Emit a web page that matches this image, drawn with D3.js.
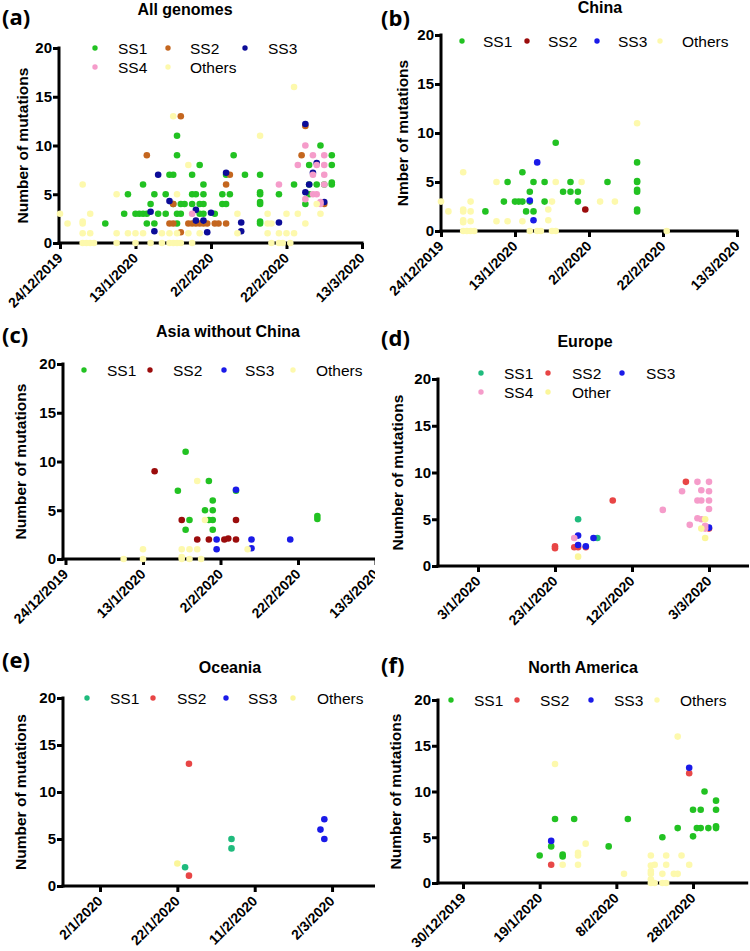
<!DOCTYPE html>
<html><head><meta charset="utf-8">
<script src="https://cdn.jsdelivr.net/npm/d3@7"></script>
<style>body{margin:0;background:#fff}svg{display:block}</style>
</head><body>
<svg id="chart" width="750" height="951"></svg>
<script>
// ---------- DATA ----------
const yTickValues = [0, 5, 10, 15, 20];
const ticksABC = ["2019-12-24","2020-01-13","2020-02-02","2020-02-22","2020-03-13"];
const ticksD = ["2020-01-03","2020-01-23","2020-02-12","2020-03-03"];
const ticksE = ["2020-01-02","2020-01-22","2020-02-11","2020-03-02"];
const ticksF = ["2019-12-30","2020-01-19","2020-02-08","2020-02-28"];
const dateExtent = ["2019-12-24","2020-03-13"];

// (a) All genomes
const aSS1 = [["2020-01-24",11],["2020-01-24",9],["2020-02-08",9],["2020-03-02",10],["2020-03-05",9],
["2020-01-30",8],["2020-02-28",8],["2020-03-05",8],
["2020-01-22",7],["2020-01-23",7],["2020-01-28",7],["2020-02-06",7],["2020-02-11",7],["2020-02-15",7],
["2020-01-15",6],["2020-01-31",6],["2020-02-24",6],["2020-02-28",6],["2020-03-01",6],["2020-03-03",6],["2020-03-05",6],["2020-03-05",6.2],
["2020-01-11",5],["2020-01-18",5],["2020-01-21",5],["2020-01-28",5],["2020-01-29",5],["2020-01-31",5],["2020-02-05",5],["2020-02-07",5],["2020-02-15",5.2],["2020-02-15",5],["2020-02-20",5],["2020-02-28",5],
["2020-01-17",4],["2020-01-23",4],["2020-01-25",4],["2020-01-26",4],["2020-01-28",4],["2020-01-30",4],["2020-01-31",4],["2020-02-05",4],["2020-02-06",4],["2020-02-15",4.2],["2020-02-15",4],["2020-02-27",4],
["2020-01-10",3],["2020-01-13",3],["2020-01-14",3],["2020-01-15",3],["2020-01-16",3],["2020-01-19",3],["2020-01-21",3],["2020-01-24",3],["2020-01-25",3],["2020-01-30",3],["2020-01-31",3],["2020-02-03",3],
["2020-01-05",2],["2020-01-16",2],["2020-01-18",2],["2020-01-24",2],["2020-02-15",2.2],["2020-02-15",2]];
const aSS2 = [["2020-01-16",9],["2020-01-25",13],["2020-02-26",9],["2020-02-27",12],["2020-02-06",6],["2020-02-07",7],["2020-01-23",4],["2020-03-03",4],
["2020-01-22",2],["2020-01-23",2],["2020-01-27",2],["2020-01-28",2],["2020-01-29",2],["2020-01-30",2],["2020-01-31",2],["2020-02-01",2],["2020-02-03",2],["2020-02-04",2],["2020-02-06",2],["2020-01-25",1.1]];
const aSS3 = [["2020-01-19",7],["2020-02-06",7.2],["2020-01-22",4.3],["2020-01-17",3.2],["2020-01-29",3.4],["2020-02-02",3.1],["2020-01-18",1.2],["2020-01-29",2.3],["2020-01-31",2.3],["2020-02-01",1.1],["2020-02-10",2.1],["2020-02-10",1.2],["2020-02-20",2.1],
["2020-02-27",12.2],["2020-02-28",6],["2020-02-27",5.2],["2020-02-29",7.2],["2020-03-01",8.2],["2020-03-03",4.2]];
const aSS4 = [["2020-01-28",3],["2020-02-20",6],["2020-02-25",8],["2020-02-27",10],["2020-02-29",9],["2020-03-03",9],["2020-02-29",7],["2020-03-03",7],["2020-03-01",8],["2020-03-03",8],["2020-03-03",6],["2020-02-29",5],["2020-03-01",5],["2020-02-27",4.5],["2020-03-02",4.2],["2020-03-02",4]];
const aOthers = [["2020-01-23",13],["2020-01-27",8],["2020-02-15",11],["2020-02-24",16],
["2019-12-24",3],["2019-12-26",2],["2019-12-30",6],["2019-12-30",2.2],["2019-12-30",2],["2019-12-30",1],["2019-12-30",0],["2019-12-31",0],["2020-01-01",3],["2020-01-01",1],["2020-01-01",0],["2020-01-02",0],
["2020-01-08",5],["2020-01-08",1],["2020-01-08",0],["2020-01-11",1],["2020-01-13",1],["2020-01-13",0],["2020-01-15",1],["2020-01-17",0],["2020-01-20",0],["2020-01-20",1],["2020-01-22",0],["2020-01-22",1],["2020-01-23",0],["2020-01-24",0],["2020-01-24",1],["2020-01-24",5],["2020-01-25",0],["2020-01-27",1],["2020-01-28",0],["2020-01-30",1],
["2020-02-09",3],["2020-02-09",1],["2020-02-17",3],["2020-02-17",2],["2020-02-17",1],["2020-02-18",2],["2020-02-18",0],["2020-02-20",0],["2020-02-20",1],["2020-02-21",0],["2020-02-22",3],["2020-02-22",1],["2020-02-23",0],["2020-02-24",1],["2020-02-25",3],["2020-02-27",2],["2020-03-02",3],["2020-03-01",4]];

// (b) China
const bSS1 = [["2020-01-24",9],["2020-02-15",7],["2020-01-15",6],
["2020-01-11",5],["2020-01-18",5],["2020-01-21",5],["2020-01-28",5],["2020-02-07",5],["2020-02-15",5.1],["2020-02-15",5],
["2020-01-17",4],["2020-01-26",4],["2020-01-28",4],["2020-01-30",4],["2020-02-15",4.2],["2020-02-15",4],
["2020-01-10",3],["2020-01-13",3],["2020-01-14",3],["2020-01-15",3],["2020-01-17",3],["2020-01-21",3],["2020-01-30",3],
["2020-01-05",2],["2020-01-16",2],["2020-01-18",2],["2020-02-15",2.2],["2020-02-15",2]];
const bSS2 = [["2020-02-01",2.2]];
const bSS3 = [["2020-01-19",7],["2020-01-17",3.1],["2020-01-18",1.1]];
const bOthers = [["2020-02-15",11],["2019-12-30",6],["2020-01-08",5],["2020-01-24",5],["2020-01-31",5],
["2019-12-24",3],["2020-01-01",3],["2020-01-23",3],["2020-02-05",3],["2020-02-09",3],
["2019-12-26",2],["2019-12-30",2.2],["2019-12-30",2],["2020-01-01",2],["2020-01-22",2.2],
["2019-12-30",1.1],["2019-12-30",0.9],["2020-01-01",1],["2020-01-08",1],["2020-01-11",1],["2020-01-15",1],["2020-01-22",1.1],
["2019-12-30",0],["2019-12-31",0],["2020-01-01",0],["2020-01-02",0],["2020-01-17",0],["2020-01-19",0],["2020-01-20",0],["2020-01-23",0],["2020-01-24",0],["2020-02-23",0]];

// (c) Asia without China
const cSS1 = [["2020-01-24",11],["2020-01-30",8],["2020-01-22",7],["2020-02-06",7],["2020-01-31",6],["2020-01-29",5],["2020-01-31",5],["2020-01-25",4],["2020-01-30",4],["2020-01-31",4],["2020-01-24",3],["2020-01-31",3],["2020-02-27",4.4],["2020-02-27",4.1]];
const cSS2 = [["2020-01-16",9],["2020-01-23",4],["2020-02-06",4],["2020-01-27",2],["2020-01-30",2],["2020-02-03",2],["2020-02-04",2.1],["2020-02-06",2]];
const cSS3 = [["2020-02-06",7.1],["2020-02-01",2],["2020-02-10",2],["2020-02-20",2],["2020-02-01",1],["2020-02-10",1.1]];
const cOthers = [["2020-01-27",8],["2020-01-29",4],["2020-02-09",1],["2020-01-13",1],["2020-01-23",1],["2020-01-25",1],["2020-01-27",1],["2020-01-08",0],["2020-01-13",0],["2020-01-23",0.2],["2020-01-23",0],["2020-01-25",0],["2020-01-28",0]];

// (d) Europe
const dSS1 = [["2020-01-29",5],["2020-02-03",3]];
const dSS2 = [["2020-01-23",2.1],["2020-01-23",1.9],["2020-01-28",2],["2020-01-29",2],["2020-01-31",2],["2020-02-07",7],["2020-02-26",9],["2020-03-03",4]];
const dSS3 = [["2020-01-29",2.25],["2020-01-29",3.25],["2020-02-02",3],["2020-01-31",2.1],["2020-03-03",4.1]];
const dSS4 = [["2020-01-28",3],["2020-02-20",6],["2020-02-25",8],["2020-02-29",9],["2020-03-01",8.1],["2020-02-29",7],["2020-03-01",7],["2020-03-03",9],["2020-03-03",8],["2020-03-03",7],["2020-03-03",6.1],["2020-02-27",4.4],["2020-02-29",5.1],["2020-03-01",5],["2020-03-02",4.3],["2020-03-02",4]];
const dOther = [["2020-01-29",1],["2020-03-02",5],["2020-03-01",4],["2020-03-02",3]];

// (e) Oceania
const eSS1 = [["2020-01-24",2],["2020-02-05",5],["2020-02-05",4]];
const eSS2 = [["2020-01-25",13],["2020-01-25",1.1]];
const eSS3 = [["2020-02-28",6],["2020-02-29",7.1],["2020-02-29",5]];
const eOthers = [["2020-01-22",2.4]];

// (f) North America
const fSS1 = [["2020-03-02",10],["2020-03-05",9],["2020-02-28",8],["2020-03-01",8],["2020-03-05",8],["2020-01-23",7],["2020-01-28",7],["2020-02-11",7],["2020-02-24",6],["2020-02-29",6],["2020-03-01",6],["2020-03-03",6],["2020-03-05",6.2],["2020-03-05",6],["2020-02-28",5.1],["2020-02-20",5],["2020-01-22",4],["2020-02-06",4],["2020-01-19",3],["2020-01-25",3.1],["2020-01-25",2.9]];
const fSS2 = [["2020-02-27",12],["2020-01-22",2]];
const fSS3 = [["2020-02-27",12.6],["2020-01-22",4.6]];
const fOthers = [["2020-01-23",13],["2020-02-24",16],["2020-01-31",4.3],["2020-01-29",3.3],["2020-01-29",3],["2020-01-25",2],["2020-01-29",2],["2020-02-10",1],["2020-02-17",3],["2020-02-17",1.9],["2020-02-17",1.3],["2020-02-17",1],["2020-02-17",0.4],["2020-02-17",0],["2020-02-18",2],["2020-02-18",0],["2020-02-21",3],["2020-02-21",2],["2020-02-21",0],["2020-02-20",1],["2020-02-20",0],["2020-02-23",1],["2020-02-24",1],["2020-02-25",3],["2020-02-27",2]];

// ---------- STYLE / LAYOUT ----------
const YELLOW = "#fdf9ad";
const palA = {SS1:"#22c222", SS2:"#c4661f", SS3:"#0c0c98", SS4:"#f59cca", Others:YELLOW};
const palBC = {SS1:"#22c222", SS2:"#9b0c0c", SS3:"#1a1ae8", Others:YELLOW};
const palDE = {SS1:"#1fbb7d", SS2:"#e84545", SS3:"#1a1ae8", SS4:"#f59cca", Other:"#fbf69a", Others:"#fbf69a"};
const palF = {SS1:"#22c222", SS2:"#e84848", SS3:"#1a1ae8", Others:YELLOW};

const panels = [
 {letter:"(a)", title:"All genomes", yTitle:"Number of mutations", yAxisX:59, xr:[60,362], yr:[243,48], ticks:ticksABC,
  series:[["SS1",aSS1],["SS2",aSS2],["SS3",aSS3],["SS4",aSS4],["Others",aOthers]], pal:palA,
  letterPos:[2,25], titlePos:[185,15], yTitleX:22, clip:true,
  legend:[[95,48,118],[168,48,190],[245,48,268],[95,67,118],[168,67,190]]},
 {letter:"(b)", title:"China", yTitle:"Nmber of mutations", yAxisX:441, xr:[441,737], yr:[231,35], ticks:ticksABC,
  series:[["SS1",bSS1],["SS2",bSS2],["SS3",bSS3],["Others",bOthers]], pal:palBC,
  letterPos:[381,26], titlePos:[600,13], yTitleX:402.5,
  legend:[[462,41,483],[527,41,548],[597,41,618],[660,41,682]]},
 {letter:"(c)", title:"Asia without China", yTitle:"Number of mutations", yAxisX:63, xr:[65.5,375.5], yr:[559,364], ticks:ticksABC,
  series:[["SS1",cSS1],["SS2",cSS2],["SS3",cSS3],["Others",cOthers]], pal:palBC,
  letterPos:[2,343], titlePos:[228,337], yTitleX:20, clip:true,
  legend:[[84,370,107],[150,370,173],[224,370,245],[293,370,316]]},
 {letter:"(d)", title:"Europe", yTitle:"Number of mutations", yAxisX:438, xr:[439.5,747.5], yr:[566,379], ticks:ticksD,
  series:[["SS1",dSS1],["SS2",dSS2],["SS3",dSS3],["SS4",dSS4],["Other",dOther]], pal:palDE,
  letterPos:[381,346], titlePos:[585,347], yTitleX:397,
  legend:[[481,373,504],[548,373,572],[622,373,646],[481,392,504],[548,392,572]]},
 {letter:"(e)", title:"Oceania", yTitle:"Number of mutations", yAxisX:63, xr:[65.2,374.6], yr:[886,698], ticks:ticksE,
  series:[["SS1",eSS1],["SS2",eSS2],["SS3",eSS3],["Others",eOthers]], pal:palDE,
  letterPos:[2,668], titlePos:[230,673], yTitleX:20, clip:true,
  legend:[[87,698,110],[153,698,177],[226,698,248],[293,698,317]]},
 {letter:"(f)", title:"North America", yTitle:"Number of mutations", yAxisX:438, xr:[440,746.7], yr:[883,700], ticks:ticksF,
  series:[["SS1",fSS1],["SS2",fSS2],["SS3",fSS3],["Others",fOthers]], pal:palF,
  letterPos:[381,673], titlePos:[583,673], yTitleX:395,
  legend:[[451,700,474],[517,700,540],[591,700,614],[657,700,680]]}
];

const FONT = "'Liberation Sans', Arial, Helvetica, sans-serif";
const parse = d3.timeParse("%Y-%m-%d");
const fmt = d3.timeFormat("%-d/%-m/%Y");
const svg = d3.select("#chart");
svg.append("defs").append("clipPath").attr("id","leftclip")
  .append("rect").attr("x",0).attr("y",0).attr("width",375).attr("height",951);

panels.forEach(p => {
  const g = svg.append("g");
  if (p.clip) g.attr("clip-path","url(#leftclip)");
  const x = d3.scaleTime().domain(dateExtent.map(parse)).range(p.xr);
  const y = d3.scaleLinear().domain([0,20]).range(p.yr);

  // panel letter & title
  g.append("text").attr("x",p.letterPos[0]).attr("y",p.letterPos[1]).text(p.letter)
    .attr("font-family","'Open Sans', sans-serif").attr("font-weight",700).attr("font-size",22);
  g.append("text").attr("x",p.titlePos[0]).attr("y",p.titlePos[1]).text(p.title)
    .attr("text-anchor","middle").attr("font-family",FONT).attr("font-weight","bold").attr("font-size",16);

  // y axis
  const ya = g.append("g").attr("transform",`translate(${p.yAxisX},0)`)
    .call(d3.axisLeft(y).tickValues(yTickValues).tickSize(6).tickPadding(1).tickSizeOuter(0));
  ya.select(".domain").remove();
  ya.selectAll("line").attr("stroke","#000").attr("stroke-width",3);
  ya.selectAll("text").attr("font-family",FONT).attr("font-weight","bold").attr("font-size",15).attr("fill","#000");
  g.append("line").attr("x1",p.yAxisX).attr("x2",p.yAxisX).attr("y1",y(0)+1.5).attr("y2",y(20)-1.5)
    .attr("stroke","#000").attr("stroke-width",3);

  // x axis
  const xa = g.append("g").attr("transform",`translate(0,${y(0)})`)
    .call(d3.axisBottom(x).tickValues(p.ticks.map(parse)).tickFormat(fmt).tickSize(6).tickSizeOuter(0));
  xa.select(".domain").remove();
  xa.selectAll("line").attr("stroke","#000").attr("stroke-width",3);
  xa.selectAll("text").attr("x",0).attr("y",0).attr("dy",0)
    .attr("transform","translate(3,16) rotate(-45)").attr("text-anchor","end")
    .attr("font-family",FONT).attr("font-weight","bold").attr("font-size",14).attr("fill","#000");
  g.append("line").attr("x1",p.yAxisX-1.5).attr("x2",p.xr[1]+1.5).attr("y1",y(0)).attr("y2",y(0))
    .attr("stroke","#000").attr("stroke-width",3);

  // y title
  g.append("text").attr("transform",`translate(${p.yTitleX},${(p.yr[0]+p.yr[1])/2}) rotate(-90)`)
    .attr("dy","0.36em").attr("text-anchor","middle").text(p.yTitle)
    .attr("font-family",FONT).attr("font-weight","bold").attr("font-size",15.5);

  // points
  p.series.forEach(([name, data]) => {
    g.append("g").selectAll("circle").data(data).join("circle")
      .attr("cx", d => x(parse(d[0]))).attr("cy", d => y(d[1]))
      .attr("r", 3.3).attr("fill", p.pal[name]);
  });

  // legend
  p.series.forEach(([name], i) => {
    const [cx, cy, tx] = p.legend[i];
    g.append("circle").attr("cx",cx).attr("cy",cy).attr("r",2.7).attr("fill",p.pal[name]);
    g.append("text").attr("x",tx).attr("y",cy+5.5).text(name)
      .attr("font-family",FONT).attr("font-size",15.5).attr("fill","#000");
  });
});
</script>
</body></html>
